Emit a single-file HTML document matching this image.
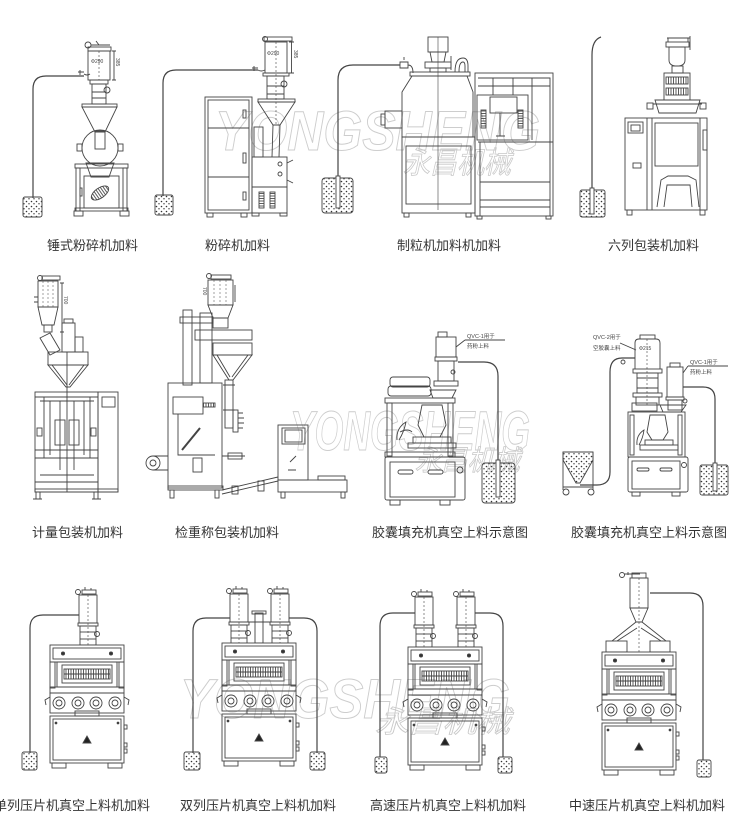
<!DOCTYPE html>
<html><head><meta charset="utf-8"><style>
html,body{margin:0;padding:0;background:#fff;}
svg{display:block;}
</style></head><body>
<svg width="750" height="836" viewBox="0 0 750 836" xmlns="http://www.w3.org/2000/svg">
<defs>
<pattern id="dots" width="5" height="5" patternUnits="userSpaceOnUse"><circle cx="1.5" cy="1.5" r="0.8" fill="#333"/><circle cx="4" cy="3.8" r="0.7" fill="#333"/></pattern>
<pattern id="hatch" width="2.5" height="4" patternUnits="userSpaceOnUse"><line x1="1" y1="0" x2="1" y2="4" stroke="#333" stroke-width="0.8"/></pattern>
<pattern id="hatchH" width="4" height="2.5" patternUnits="userSpaceOnUse"><line x1="0" y1="1" x2="4" y2="1" stroke="#333" stroke-width="0.8"/></pattern>
<g id="press" fill="none" stroke="#444" stroke-width="0.9">
 <rect x="0" y="0" width="74" height="17" fill="#fff"/>
 <rect x="3" y="3" width="68" height="11"/>
 <circle cx="13" cy="8.5" r="1.6" fill="#333"/><circle cx="61" cy="8.5" r="1.6" fill="#333"/>
 <rect x="0" y="17" width="5" height="26"/><rect x="69" y="17" width="5" height="26"/>
 <rect x="7" y="17" width="60" height="25"/>
 <rect x="12" y="20" width="50" height="18"/>
 <rect x="14" y="24" width="46" height="10" fill="url(#hatch)"/>
 <line x1="14" y1="29" x2="60" y2="29"/>
 <rect x="0" y="42" width="74" height="6"/>
 <rect x="0" y="48" width="74" height="20"/>
 <circle cx="9" cy="58" r="6"/><circle cx="9" cy="58" r="3"/>
 <circle cx="28" cy="58" r="6"/><circle cx="28" cy="58" r="3"/>
 <circle cx="46" cy="58" r="6"/><circle cx="46" cy="58" r="3"/>
 <circle cx="65" cy="58" r="6"/><circle cx="65" cy="58" r="3"/>
 <path d="M0 52 L-5 55 L-4 60 M74 52 L79 55 L78 60"/>
 <rect x="25" y="66" width="24" height="5"/>
 <rect x="0" y="71" width="74" height="47"/>
 <rect x="3" y="74" width="68" height="41"/>
 <circle cx="6" cy="78" r="0.9" fill="#333"/><circle cx="68" cy="78" r="0.9" fill="#333"/>
 <path d="M33 98 L37 91 L41 98 Z" fill="#222"/>
 <rect x="74" y="80" width="3" height="4"/><rect x="74" y="98" width="3" height="4"/><rect x="74" y="104" width="3" height="4"/>
 <rect x="2" y="118" width="14" height="5"/><rect x="58" y="118" width="14" height="5"/>
</g>
<g id="fd" fill="none" stroke="#444" stroke-width="0.9">
 <circle cx="-1" cy="2" r="2.5"/>
 <rect x="3" y="0" width="14" height="4"/>
 <path d="M6 0 V-3 M12 0 V-2"/>
 <rect x="0" y="5" width="18" height="28"/>
 <line x1="9" y1="5" x2="9" y2="55" stroke-dasharray="2 2" stroke-width="0.6"/>
 <rect x="-1" y="33" width="20" height="3"/>
 <rect x="1" y="36" width="16" height="19"/>
 <line x1="1" y1="42" x2="17" y2="42"/>
 <line x1="1" y1="49" x2="17" y2="49"/>
 <circle cx="18" cy="44" r="2.5"/>
</g>
</defs>

<!-- watermarks -->
<g fill="none" stroke="#cdcdcd" stroke-width="1" font-family="Liberation Sans, sans-serif" font-weight="bold" font-style="italic">
 <text x="215" y="150" font-size="56" textLength="325" lengthAdjust="spacingAndGlyphs">YONGSHENG</text>
 <text x="290" y="450" font-size="56" textLength="240" lengthAdjust="spacingAndGlyphs">YONGSHENG</text>
 <text x="180" y="718" font-size="56" textLength="330" lengthAdjust="spacingAndGlyphs">YONGSHENG</text>
</g>
<g fill="none" stroke="#c8c8c8" stroke-width="0.8" font-family="Liberation Sans, Noto Sans CJK SC, sans-serif" font-style="italic">
 <text x="403" y="173" font-size="30" textLength="108" lengthAdjust="spacingAndGlyphs">永昌机械</text>
 <text x="415" y="470" font-size="28" textLength="105" lengthAdjust="spacingAndGlyphs">永昌机械</text>
 <text x="375" y="732" font-size="30" textLength="135" lengthAdjust="spacingAndGlyphs">永昌机械</text>
</g>

<g fill="none" stroke="#444" stroke-width="0.9">
<!-- ===== Machine 1 ===== -->
<path d="M84 76 H46 Q33 76 33 89 V198" stroke-width="1.2"/>
<rect x="23" y="197" width="19" height="20" rx="2" fill="url(#dots)"/>
<circle cx="88" cy="45" r="3"/>
<path d="M91 45 H110 M96 41 L99 45"/>
<rect x="88" y="47" width="23" height="4"/>
<rect x="88" y="51" width="22" height="29"/>
<line x1="99" y1="51" x2="99" y2="80" stroke-dasharray="2 2" stroke-width="0.6"/>
<path d="M112 51 H116 M114 51 V80 M112 80 H116"/>
<path d="M78 72 h6 M80 70 v5 M84 74 q3 2 6 0"/>
<rect x="90" y="80" width="18" height="4"/>
<rect x="92" y="84" width="14" height="20"/>
<path d="M92 92 H106 M92 98 H106"/>
<circle cx="107" cy="90" r="3"/>
<rect x="82" y="104" width="35" height="3"/>
<path d="M82 107 H117 L105 132 H95 Z"/>
<circle cx="100" cy="148" r="18"/>
<rect x="95" y="131" width="10" height="18"/>
<rect x="77" y="144" width="5" height="7"/><rect x="118" y="144" width="5" height="7"/>
<path d="M86 163 H114 L109 177 H91 Z"/>
<rect x="75" y="164" width="53" height="4"/>
<rect x="76" y="168" width="4" height="43"/><rect x="123" y="168" width="4" height="43"/>
<rect x="84" y="176" width="35" height="32"/>
<ellipse cx="100" cy="193" rx="10" ry="5" transform="rotate(-35 100 193)" fill="url(#hatch)"/>
<rect x="80" y="188" width="2" height="8"/>
<rect x="75" y="208" width="53" height="3"/>
<rect x="74" y="211" width="9" height="5"/><rect x="120" y="211" width="9" height="5"/>

<!-- ===== Machine 2 ===== -->
<path d="M258 70 H176 Q163 70 163 83 V196" stroke-width="1.2"/>
<rect x="155" y="195" width="18" height="20" rx="2" fill="url(#dots)"/>
<rect x="205" y="97" width="47" height="116"/>
<rect x="208" y="100" width="41" height="110"/>
<path d="M208 128 H249 M208 177 H249"/>
<rect x="243" y="110" width="3" height="8"/><rect x="243" y="153" width="3" height="10"/><rect x="243" y="192" width="3" height="8"/>
<rect x="207" y="213" width="6" height="4"/><rect x="241" y="213" width="6" height="4"/>
<circle cx="265" cy="39" r="2.5"/>
<rect x="264" y="37" width="28" height="4"/>
<rect x="265" y="42" width="22" height="31"/>
<line x1="276" y1="42" x2="276" y2="125" stroke-dasharray="2 2" stroke-width="0.6"/>
<path d="M289 42 H294 M291.5 42 V73 M289 73 H294"/>
<path d="M252 68 h6 M254 66 v5 M258 70 q3 2 7 0"/>
<rect x="263" y="73" width="26" height="3"/>
<rect x="267" y="76" width="17" height="23"/>
<circle cx="284" cy="84" r="3"/>
<path d="M267 86 H284 M267 94 H284"/>
<rect x="258" y="99" width="37" height="3"/>
<path d="M258 102 H295 L280 125 H273 Z"/>
<path d="M273 125 L272 157 M280 125 L279 157"/>
<rect x="254" y="127" width="9" height="30"/>
<rect x="252" y="157" width="35" height="30"/>
<circle cx="280" cy="164" r="2"/><circle cx="280" cy="174" r="2"/>
<path d="M287 163 L293 160 M287 180 L293 183"/>
<rect x="252" y="187" width="35" height="26"/>
<rect x="259" y="192" width="5" height="16" fill="url(#hatchH)"/>
<rect x="270" y="192" width="5" height="16" fill="url(#hatchH)"/>
<rect x="252" y="213" width="7" height="3"/><rect x="280" y="213" width="7" height="3"/>

<!-- ===== Machine 3 granulator ===== -->
<path d="M338 206 V80 Q338 65 353 65 H400" stroke-width="1.2"/>
<rect x="322" y="178" width="31" height="35" rx="3" fill="url(#dots)"/>
<rect x="336" y="176" width="4" height="32" fill="#fff"/>
<path d="M400 62 h8 v6 h-8 z M404 60 v-3 M408 65 q5 0 5 8"/>
<rect x="410" y="72" width="60" height="4"/>
<path d="M412 76 L402 92 V137 H473 V92 L467 76 Z"/>
<line x1="438" y1="37" x2="438" y2="210" stroke-width="0.6"/>
<rect x="428" y="37" width="20" height="15"/>
<path d="M430 52 H446 L444 62 H432 Z"/>
<rect x="425" y="62" width="26" height="6"/>
<rect x="430" y="68" width="16" height="4"/>
<path d="M451 70 V56"/>
<path d="M455 72 Q455 58 463 58 Q468 58 468 66 V72 M459 72 Q459 62 463 62 Q465 62 465 66 V72"/>
<rect x="385" y="111" width="17" height="17"/>
<rect x="381" y="114" width="4" height="11"/>
<rect x="402" y="137" width="73" height="76"/>
<rect x="406" y="146" width="65" height="58"/>
<rect x="404" y="213" width="5" height="4"/><rect x="466" y="213" width="5" height="4"/>
<rect x="475" y="73" width="78" height="143"/>
<path d="M478 78 H550 V216 M478 86 H550 M493 78 V95 M513 78 V95 M532 78 V140"/>
<rect x="477" y="95" width="51" height="45"/>
<rect x="490" y="97" width="27" height="16"/>
<rect x="481" y="110" width="5" height="18" fill="url(#hatchH)"/><rect x="518" y="110" width="5" height="18" fill="url(#hatchH)"/>
<path d="M500 113 V136 M496 136 H505"/>
<path d="M478 142 H553 M480 142 V216 M480 182 H550 M480 200 H550 M480 207 H550"/>
<rect x="477" y="216" width="5" height="3"/><rect x="546" y="216" width="5" height="3"/>

<!-- ===== Machine 4 six-column ===== -->
<path d="M601 37 Q592 40 592 55 V200" stroke-width="1.2"/>
<rect x="580" y="190" width="25" height="27" rx="2" fill="url(#dots)"/>
<rect x="590" y="188" width="4" height="26" fill="#fff"/>
<path d="M667 38 H690 M668 38 V42 M688 38 V42 M690 36 V50"/>
<rect x="666" y="42" width="23" height="5"/>
<path d="M669 47 H685 V60 Q685 66 677 66 Q669 66 669 60 Z"/>
<rect x="672" y="66" width="11" height="7"/>
<rect x="664" y="73" width="26" height="27"/>
<rect x="666" y="77" width="22" height="7" fill="url(#hatch)"/>
<rect x="666" y="88" width="22" height="7" fill="url(#hatch)"/>
<path d="M655 100 H700 L696 113 H659 Z"/>
<path d="M653 104 H702"/>
<rect x="647" y="103" width="6" height="6"/><rect x="700" y="103" width="6" height="6"/>
<rect x="625" y="118" width="82" height="92"/>
<path d="M647 118 V210 M652 118 V210 M700 118 V210"/>
<rect x="628" y="122" width="15" height="11"/>
<rect x="631" y="125" width="9" height="6"/>
<rect x="633" y="163" width="8" height="5"/>
<rect x="655" y="123" width="43" height="43"/>
<path d="M657 207 L661 180 L668 176 H688 L696 180 L699 207 M664 207 L667 185 H690 L692 207"/>
<rect x="703" y="130" width="4" height="20"/>
<rect x="627" y="210" width="5" height="5"/><rect x="700" y="210" width="5" height="5"/>

<!-- ===== Machine 5 metering ===== -->
<circle cx="40" cy="278" r="2.5"/>
<rect x="42" y="276" width="18" height="4"/>
<rect x="38" y="281" width="20" height="26"/>
<path d="M43 281 V307 M48 281 V307 M53 281 V307" stroke-dasharray="2 2" stroke-width="0.5"/>
<path d="M60 283 H64 M62 283 V332 M60 332 H64"/>
<path d="M38 297 h-4 M38 302 h-4"/>
<path d="M38 307 H58 L54 325 H42 Z"/>
<rect x="44" y="325" width="8" height="7"/>
<path d="M40 338 L50 333 L60 350 L50 355 Z"/>
<rect x="62" y="323" width="13" height="29"/>
<rect x="64" y="319" width="9" height="4"/>
<rect x="75" y="337" width="8" height="15"/>
<rect x="48" y="352" width="40" height="13"/>
<path d="M48 365 H88 L70 387 H66 Z M52 365 L67 385 M84 365 L69 385"/>
<rect x="35" y="392" width="63" height="100"/>
<line x1="67" y1="352" x2="67" y2="492"/>
<path d="M35 397 H98 M40 401 H94 M35 450 H98 M35 458 H98 M40 475 H94 M35 482 H98"/>
<path d="M44 397 V458 M50 401 V455 M84 401 V455 M90 397 V458 M60 401 V470 M74 401 V470"/>
<rect x="55" y="420" width="10" height="25"/><rect x="69" y="420" width="10" height="25"/>
<rect x="37" y="428" width="5" height="8"/><rect x="91" y="428" width="5" height="8"/>
<rect x="98" y="392" width="20" height="100"/>
<rect x="102" y="397" width="13" height="10"/>
<rect x="35" y="489" width="83" height="3"/>
<rect x="36" y="492" width="4" height="7"/><rect x="94" y="492" width="4" height="7"/>
<path d="M33 499 h9 M92 499 h9"/>

<!-- ===== Machine 6 check weigher ===== -->
<circle cx="209" cy="276" r="2.5"/>
<rect x="211" y="275" width="20" height="4"/>
<rect x="208" y="280" width="25" height="25"/>
<path d="M214 280 V305 M220 280 V305 M226 280 V305" stroke-width="0.5" stroke-dasharray="2 2"/>
<path d="M235 285 V302"/>
<path d="M208 305 H233 L228 318 H213 Z"/>
<rect x="213" y="318" width="15" height="10"/>
<rect x="183" y="310" width="9" height="75"/>
<rect x="180" y="317" width="33" height="6"/>
<rect x="200" y="313" width="12" height="70"/>
<rect x="195" y="330" width="57" height="10"/>
<rect x="213" y="343" width="39" height="12"/>
<path d="M213 355 H252 L233 380 H229 Z M217 355 L230 377 M248 355 L232 377"/>
<rect x="225" y="380" width="8" height="48"/>
<path d="M223 385 H235 M223 410 H235"/>
<rect x="233" y="410" width="5" height="22"/>
<path d="M238 413 h5 M238 418 h6 M238 423 h6 M238 428 h5"/>
<rect x="168" y="383" width="54" height="105"/>
<rect x="173" y="397" width="30" height="17"/>
<rect x="203" y="403" width="12" height="4" fill="url(#hatch)"/>
<path d="M178 414 V455 H215"/>
<path d="M182 450 L200 428" stroke-width="2"/>
<rect x="193" y="458" width="9" height="14"/>
<path d="M222 456 H245"/><rect x="228" y="453" width="14" height="6"/>
<circle cx="153" cy="463" r="7"/><circle cx="153" cy="463" r="3"/>
<path d="M153 456 H168 M153 470 H168"/>
<rect x="168" y="486" width="55" height="4"/>
<rect x="170" y="490" width="4" height="8"/><rect x="215" y="490" width="4" height="8"/>
<path d="M222 490 L278 477 M222 494 L278 481"/>
<rect x="232" y="486" width="6" height="8"/><rect x="258" y="481" width="6" height="10"/>
<rect x="278" y="425" width="30" height="55"/>
<rect x="282" y="428" width="23" height="16"/>
<rect x="285" y="430" width="17" height="12"/>
<path d="M290 462 L296 456 M288 470 h8"/>
<rect x="278" y="480" width="69" height="12"/>
<rect x="318" y="476" width="27" height="4"/>
<rect x="281" y="492" width="4" height="6"/><rect x="341" y="492" width="4" height="6"/>

<!-- ===== Machine 7 capsule 1 ===== -->
<path d="M458 362 H484 Q498 362 498 376 V497" stroke-width="1.2"/>
<rect x="482" y="463" width="33" height="40" rx="3" fill="url(#dots)"/>
<rect x="496" y="460" width="4" height="37" fill="#fff"/>
<rect x="438" y="332" width="9" height="5"/>
<rect x="436" y="337" width="20" height="20"/>
<rect x="435" y="357" width="22" height="4"/>
<rect x="438" y="361" width="16" height="20"/>
<circle cx="453" cy="372" r="2"/>
<rect x="434" y="381" width="24" height="5"/>
<path d="M465 340 H505 M465 340 L456 347"/>
<rect x="390" y="377" width="40" height="10" rx="3"/>
<rect x="388" y="386" width="43" height="10" rx="3"/>
<path d="M430 390 H456 L452 398 H433 Z"/>
<rect x="385" y="398" width="70" height="5"/>
<rect x="387" y="403" width="5" height="53"/><rect x="448" y="403" width="5" height="53"/>
<path d="M422 405 H442 L446 425 L440 437 H424 L418 425 Z"/>
<rect x="413" y="437" width="38" height="6"/>
<rect x="408" y="443" width="48" height="5"/>
<path d="M397 440 Q396 428 406 422 Q404 432 399 440 M400 432 Q408 428 412 432"/>
<rect x="385" y="452" width="70" height="5"/>
<rect x="385" y="457" width="80" height="43" rx="2"/>
<rect x="390" y="462" width="65" height="35"/>
<rect x="398" y="470" width="15" height="4" rx="2"/><rect x="428" y="470" width="15" height="4" rx="2"/>
<circle cx="460" cy="470" r="3"/>
<rect x="390" y="500" width="10" height="5"/><rect x="440" y="500" width="10" height="5"/>

<!-- ===== Machine 8 capsule 2 ===== -->
<path d="M563 452 H593 V460 L580 483 H576 L563 460 Z" fill="url(#dots)"/>
<path d="M563 452 V490 M593 452 V490 M563 487 H593"/>
<circle cx="566" cy="492" r="3"/><circle cx="591" cy="492" r="3"/>
<path d="M580 485 H597 Q610 485 610 472 V372 Q610 358 622 358 H635" stroke-width="1.2"/>
<circle cx="623" cy="362" r="2"/>
<rect x="640" y="335" width="15" height="4"/>
<path d="M635 369 V343 Q635 339 639 339 H656 Q660 339 660 343 V369"/>
<line x1="647" y1="339" x2="647" y2="405" stroke-dasharray="2 2" stroke-width="0.6"/>
<rect x="633" y="369" width="29" height="4"/>
<rect x="637" y="373" width="21" height="20"/>
<path d="M637 378 H658 M637 388 H658"/>
<rect x="633" y="393" width="29" height="4"/>
<rect x="636" y="397" width="23" height="8"/>
<path d="M620 343 L636 350"/>
<rect x="670" y="363" width="10" height="4"/>
<rect x="667" y="367" width="16" height="30"/>
<rect x="666" y="397" width="18" height="3"/>
<rect x="668" y="400" width="14" height="10"/>
<circle cx="685" cy="401" r="2"/>
<path d="M688 366 H728 M688 366 L683 373"/>
<path d="M683 387 H703 Q715 387 715 399 V490" stroke-width="1.2"/>
<rect x="700" y="465" width="28" height="30" rx="2" fill="url(#dots)"/>
<rect x="713" y="463" width="4" height="28" fill="#fff"/>
<rect x="632" y="403" width="25" height="8"/>
<path d="M660 405 H686 L681 412 H663 Z"/>
<rect x="628" y="412" width="57" height="45"/>
<rect x="630" y="415" width="4" height="40"/><rect x="678" y="415" width="4" height="40"/>
<path d="M650 415 H665 L668 432 L663 440 H652 L647 432 Z"/>
<rect x="645" y="440" width="28" height="5"/>
<rect x="640" y="445" width="38" height="5"/>
<path d="M637 445 Q636 435 644 430 Q643 438 639 445"/>
<rect x="628" y="457" width="60" height="35" rx="2"/>
<rect x="632" y="461" width="48" height="28"/>
<rect x="637" y="468" width="12" height="3" rx="1.5"/><rect x="660" y="468" width="12" height="3" rx="1.5"/>
<circle cx="684" cy="465" r="2.5"/>
<rect x="632" y="492" width="8" height="4"/><rect x="672" y="492" width="8" height="4"/>

<!-- ===== Row 3 hoses & buckets ===== -->
<path d="M79 615 H43 Q30 615 30 628 V753" stroke-width="1.2"/>
<rect x="22" y="752" width="15" height="18" rx="2" fill="url(#dots)"/>
<path d="M230 618 H206 Q193 618 193 631 V753" stroke-width="1.2"/>
<rect x="184" y="752" width="16" height="18" rx="2" fill="url(#dots)"/>
<path d="M289 618 H304 Q317 618 317 631 V753" stroke-width="1.2"/>
<rect x="310" y="752" width="15" height="18" rx="2" fill="url(#dots)"/>
<path d="M415 613 H393 Q380 613 380 626 V757" stroke-width="1.2"/>
<rect x="375" y="757" width="12" height="16" rx="2" fill="url(#dots)"/>
<path d="M475 613 H490 Q503 613 503 626 V757" stroke-width="1.2"/>
<rect x="498" y="757" width="14" height="16" rx="2" fill="url(#dots)"/>
<path d="M650 593 H690 Q703 593 703 606 V760" stroke-width="1.2"/>
<rect x="697" y="760" width="14" height="17" rx="2" fill="url(#dots)"/>

<!-- feeders on presses -->
<use href="#fd" x="79" y="590"/>
<use href="#fd" x="230" y="589"/>
<use href="#fd" x="271" y="589"/>
<rect x="255" y="613" width="8" height="30"/><rect x="252" y="611" width="14" height="3"/>
<path d="M247 622 H271"/>
<use href="#fd" x="415" y="592"/>
<use href="#fd" x="457" y="592"/>
<circle cx="622" cy="575" r="2.5"/>
<path d="M624 574 H640 M628 572 V575"/>
<rect x="632" y="573" width="14" height="5"/>
<rect x="630" y="578" width="18" height="30"/>
<line x1="639" y1="578" x2="639" y2="652" stroke-dasharray="2 2" stroke-width="0.6"/>
<path d="M630 608 H648 L642 622 H636 Z"/>
<path d="M636 622 L612 641 M642 622 L666 641 M637 628 L617 641 M641 628 L661 641"/>
<rect x="606" y="641" width="21" height="11"/><rect x="650" y="641" width="20" height="11"/>

<!-- presses -->
<use href="#press" x="50" y="645"/>
<use href="#press" x="222" y="643"/>
<use href="#press" x="408" y="647"/>
<use href="#press" x="602" y="652"/>
</g>

<!-- small annotations -->
<g font-family="Liberation Sans, Noto Sans CJK SC, sans-serif" fill="#444" font-size="5">
 <text x="91" y="63">Φ290</text>
 <text transform="translate(116,58) rotate(90)">385</text>
 <text x="267" y="55">Φ290</text>
 <text transform="translate(294,50) rotate(90)">385</text>
 <text transform="translate(64,296) rotate(90)">700</text>
 <text transform="translate(203,287) rotate(90)">700</text>
 <text x="639" y="350">Φ215</text>
 <text x="467" y="338" font-size="5.5">QVC-1用于</text>
 <text x="467" y="348" font-size="5.5">药粉上料</text>
 <text x="593" y="339" font-size="5.5">QVC-2用于</text>
 <text x="593" y="350" font-size="5.5">空胶囊上料</text>
 <text x="690" y="364" font-size="5.5">QVC-1用于</text>
 <text x="690" y="374" font-size="5.5">药粉上料</text>
</g>

<!-- labels -->
<g font-family="Liberation Sans, Noto Sans CJK SC, sans-serif" font-size="13" fill="#333">
 <text x="47" y="250">锤式粉碎机加料</text>
 <text x="205" y="250">粉碎机加料</text>
 <text x="397" y="250">制粒机加料机加料</text>
 <text x="608" y="250">六列包装机加料</text>
 <text x="32" y="537">计量包装机加料</text>
 <text x="175" y="537">检重称包装机加料</text>
 <text x="372" y="537">胶囊填充机真空上料示意图</text>
 <text x="571" y="537">胶囊填充机真空上料示意图</text>
 <text x="-6" y="810">单列压片机真空上料机加料</text>
 <text x="180" y="810">双列压片机真空上料机加料</text>
 <text x="370" y="810">高速压片机真空上料机加料</text>
 <text x="569" y="810">中速压片机真空上料机加料</text>
</g>
</svg>
</body></html>
